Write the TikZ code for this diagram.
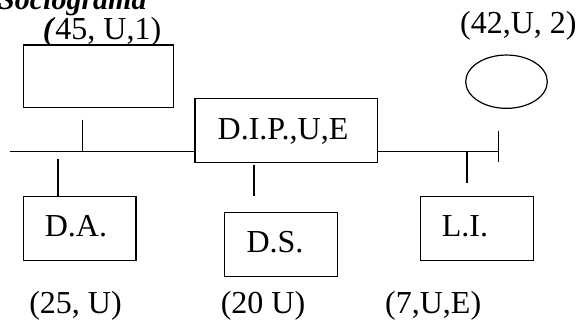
\documentclass[tikz,border=0pt]{standalone}
\usepackage{fontspec}
\setmainfont{Liberation Serif}
\usetikzlibrary{shapes.geometric}
\begin{document}
\begin{tikzpicture}[x=1pt,y=-1pt,
  bx/.style={draw=black, line width=1.2pt, rectangle, inner sep=0pt},
  ell/.style={draw=black, line width=1.2pt, ellipse, inner sep=0pt},
  lbl/.style={inner sep=0pt, anchor=base, font=\fontsize{32}{38}\selectfont},
  conn/.style={draw=black, line width=1.2pt}]
\useasboundingbox (0,0) rectangle (578,320);
\clip (0,0) rectangle (578,320);
\fill[white] (0,0) rectangle (578,320);

% title (cut at the top)
\node[inner sep=0pt, anchor=base west, font=\fontsize{30}{36}\selectfont\bfseries\itshape] (title) at (-2,10) {Sociograma};

% boxes
\node[bx, minimum width=150, minimum height=62.7] (b45) at (98.3,76.3) {};
\node[bx, minimum width=182.5, minimum height=64] (dip) at (286.2,130.3) {};
\node[bx, minimum width=112.7, minimum height=64] (da) at (79.7,228.7) {};
\node[bx, minimum width=113, minimum height=64.4] (ds) at (280.8,244.5) {};
\node[bx, minimum width=113, minimum height=64] (li) at (477.2,228.7) {};
\node[ell, minimum width=81.6, minimum height=53.3] (e42) at (506.5,81.7) {};

% texts in boxes
\node[lbl] (diptxt) at (283,140) {D.I.P.,U,E};
\node[lbl] (datxt) at (76,237) {D.A.};
\node[lbl] (dstxt) at (275,252.7) {D.S.};
\node[lbl] (litxt) at (465,237) {L.I.};

% outer labels
\node[lbl] (l45) at (102,39.5) {\textbf{\textit{(}}45, U,1)};
\node[lbl] (l42) at (518.3,33.3) {(42,U, 2)};
\node[lbl] (l25) at (75.5,313) {(25, U)};
\node[lbl] (l20) at (263,313) {(20 U)};
\node[lbl] (l7) at (433.2,313) {(7,U,E)};

% connector end points
\coordinate (lend) at (10,151.7);
\coordinate (rend) at (498.3,151.7);
\coordinate (capT) at (498.3,131);
\coordinate (capB) at (498.3,161.7);
\coordinate (t45) at (82.7,120);
\coordinate (tda) at (58,159);
\coordinate (tds) at (254,165);
\coordinate (tdsb) at (254,196);
\coordinate (tli) at (467,183);

% main line
\draw[conn] (lend) -- (lend -| dip.west);
\draw[conn] (lend -| dip.east) -- (rend);
\draw[conn] (capT) -- (capB);
% ticks
\draw[conn] (t45) -- (t45 |- lend);
\draw[conn] (tda) -- (tda |- da.north);
\draw[conn] (tds) -- (tdsb);
\draw[conn] (tli |- lend) -- (tli);
\end{tikzpicture}
\end{document}
